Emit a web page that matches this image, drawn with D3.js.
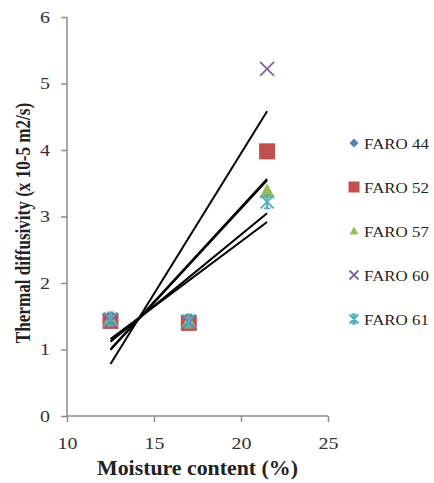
<!DOCTYPE html>
<html>
<head>
<meta charset="utf-8">
<script src="https://cdn.jsdelivr.net/npm/d3@7"></script>
<style>
  body { margin: 0; background: #fff; }
  svg text { font-family: "Liberation Serif", "Times New Roman", "DejaVu Serif", serif; }
</style>
</head>
<body>
<svg id="chart" width="434" height="483"></svg>
<script>
// moisture content (%)
const moisture = [12.5, 17, 21.5];
// thermal diffusivity (x 10-5 m2/s) per variety
const faro44 = [1.44, 1.41, 4.0];
const faro52 = [1.43, 1.40, 3.98];
const faro57 = [1.45, 1.42, 3.38];
const faro60 = [1.42, 1.41, 5.22];
const faro61 = [1.46, 1.43, 3.22];
const seriesNames = ["FARO 44", "FARO 52", "FARO 57", "FARO 60", "FARO 61"];
const xTicks = [10, 15, 20, 25];
const yTicks = [0, 1, 2, 3, 4, 5, 6];

const series = [
  { name: seriesNames[0], values: faro44, color: "#4f81bd", shape: "diamond" },
  { name: seriesNames[1], values: faro52, color: "#c0504d", shape: "square" },
  { name: seriesNames[2], values: faro57, color: "#9bbb59", shape: "triangle" },
  { name: seriesNames[3], values: faro60, color: "#8064a2", shape: "x" },
  { name: seriesNames[4], values: faro61, color: "#4bacc6", shape: "star" }
];

const svg = d3.select("#chart");
const plotLeft = 67, plotRight = 328, plotTop = 17, plotBottom = 416;
const axisColor = "#8c8c8c";
const serif = "Liberation Serif, Times New Roman, DejaVu Serif, serif";

const x = d3.scaleLinear().domain([10, 25]).range([plotLeft, plotRight]);
const y = d3.scaleLinear().domain([0, 6]).range([plotBottom, plotTop]);

// axes
const xAxis = svg.append("g")
  .attr("transform", `translate(0,${plotBottom})`)
  .call(d3.axisBottom(x).tickValues(xTicks).tickFormat(d3.format("d")).tickSize(6).tickPadding(16));
const yAxis = svg.append("g")
  .attr("transform", `translate(${plotLeft},0)`)
  .call(d3.axisLeft(y).tickValues(yTicks).tickFormat(d3.format("d")).tickSize(6));
[xAxis, yAxis].forEach(g => {
  g.attr("font-family", serif).attr("font-size", 16);
  g.selectAll("path, line").attr("stroke", axisColor).attr("stroke-width", 1.5);
  g.select(".domain").attr("d", null);
  g.selectAll("text").attr("fill", "#333");
});
// tick labels are a bit wide in the original
xAxis.selectAll("text").attr("transform", "scale(1.25,1)");
yAxis.selectAll("text").attr("x", -17 / 1.25).attr("transform", "scale(1.25,1)");

svg.append("line").attr("x1", plotLeft).attr("x2", plotRight).attr("y1", plotBottom).attr("y2", plotBottom)
  .attr("stroke", axisColor).attr("stroke-width", 1.5);
svg.append("line").attr("x1", plotLeft).attr("x2", plotLeft).attr("y1", plotTop).attr("y2", plotBottom)
  .attr("stroke", axisColor).attr("stroke-width", 1.5);

// axis titles
svg.append("text")
  .attr("transform", "translate(197.5,475) scale(1.04,1)")
  .attr("text-anchor", "middle").attr("font-family", serif)
  .attr("font-weight", "bold").attr("font-size", 21).attr("fill", "#222")
  .text("Moisture content (%)");
svg.append("text")
  .attr("transform", "translate(30,223) rotate(-90) scale(0.815,1)")
  .attr("text-anchor", "middle").attr("font-family", serif)
  .attr("font-weight", "bold").attr("font-size", 21).attr("fill", "#222")
  .text("Thermal diffusivity (x 10-5 m2/s)");

// marker drawing
function marker(g, shape, color, s) {
  const h = s / 2;
  if (shape === "diamond") {
    g.append("path").attr("d", `M0,${-h}L${h},0L0,${h}L${-h},0Z`).attr("fill", color);
  } else if (shape === "square") {
    g.append("rect").attr("x", -h).attr("y", -h).attr("width", s).attr("height", s).attr("fill", color);
  } else if (shape === "triangle") {
    g.append("path").attr("d", `M0,${-h}L${h},${h - 1}L${-h},${h - 1}Z`).attr("fill", color);
  } else if (shape === "x") {
    g.append("path").attr("d", `M${-h},${-h}L${h},${h}M${-h},${h}L${h},${-h}`)
      .attr("stroke", color).attr("stroke-width", 1.8).attr("fill", "none");
  } else if (shape === "star") {
    const c = h * 0.5;
    g.append("path").attr("d", `M${-h},${-h}L${h},${h}M${-h},${h}L${h},${-h}M0,${-h}L0,${h}M${-c},${-h}L${c},${-h}M${-c},${h}L${c},${h}`)
      .attr("stroke", color).attr("stroke-width", 1.8).attr("fill", "none");
  }
}

// points
const pointSize = { diamond: 12, square: 16, triangle: 16, x: 14, star: 13 };
series.forEach(s => {
  s.values.forEach((v, i) => {
    const g = svg.append("g").attr("transform", `translate(${x(moisture[i])},${y(v)})`);
    marker(g, s.shape, s.color, pointSize[s.shape]);
  });
});

// linear trendlines (least squares)
series.forEach(s => {
  const mx = d3.mean(moisture), my = d3.mean(s.values);
  const slope = d3.sum(moisture, (m, i) => (m - mx) * (s.values[i] - my)) / d3.sum(moisture, m => (m - mx) ** 2);
  const x0 = d3.min(moisture), x1 = d3.max(moisture);
  svg.append("line")
    .attr("x1", x(x0)).attr("y1", y(my + slope * (x0 - mx)))
    .attr("x2", x(x1)).attr("y2", y(my + slope * (x1 - mx)))
    .attr("stroke", "#000").attr("stroke-width", 2);
});

// legend
const legend = svg.append("g");
series.forEach((s, i) => {
  const row = legend.append("g").attr("transform", `translate(354,${143 + i * 44})`);
  marker(row.append("g"), s.shape, s.color, s.shape === "diamond" ? 9 : s.shape === "square" ? 11 : 9);
  row.append("text").attr("transform", "translate(10,5.5) scale(1.09,1)")
    .attr("font-family", serif).attr("font-size", 15.5).attr("fill", "#222").text(s.name);
});
</script>
</body>
</html>
